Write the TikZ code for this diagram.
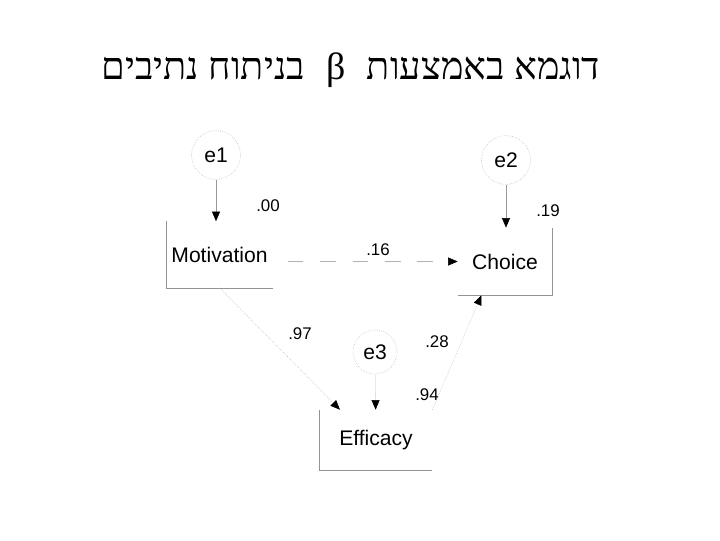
\documentclass[tikz,border=0pt]{standalone}
\usepackage{fontspec}
\setmainfont{Liberation Sans}
\newfontfamily\hebfont[Script=Hebrew]{Liberation Serif}
\TeXXeTstate=1
\usetikzlibrary{arrows.meta, positioning, calc}

\begin{document}
\begin{tikzpicture}[x=0.025cm, y=-0.025cm,
  obs/.style={minimum width=2.65cm, minimum height=1.65cm, inner sep=0pt,
              font=\fontsize{15}{18}\selectfont},
  err/.style={circle, draw=gray!60, densely dotted, minimum size=1.22cm,
              inner sep=0pt, font=\fontsize{15}{18}\selectfont},
  boxline/.style={draw=gray!85, thin},
  errarrow/.style={-{Triangle[length=2.4mm, width=2mm, color=black]}, gray!80, thin},
  regarrow/.style={-{Triangle[length=2.4mm, width=2mm, color=black]}, gray!60, thin},
  coef/.style={font=\fontsize{12}{14}\selectfont, inner sep=0pt}]
  \useasboundingbox (0,0) rectangle (720,540);
  \node[font=\hebfont\fontsize{27}{32}\selectfont] (title) at (351,70)
       {\beginR דוגמא באמצעות\hspace{0.3cm} β \hspace{0.3cm}בניתוח נתיבים\endR};
  % variables
  \node[obs] (mot) at (219.5,254.5) {Motivation};
  \node[obs, minimum width=2.35cm, minimum height=1.68cm] (cho) at (505,261.5) {Choice};
  \node[obs, minimum width=2.8cm, minimum height=1.5cm] (eff) at (376,440) {Efficacy};
  \draw[boxline] (mot.north west) |- (mot.south east);
  \draw[boxline] (cho.south west) -| (cho.north east);
  \draw[boxline] (eff.north west) |- (eff.south east);
  % errors
  \node[err] (e1) at (216,155) {e1};
  \node[err] (e2) at (506,160) {e2};
  \node[err, minimum size=1.1cm] (e3) at (375,352) {e3};
  \draw[errarrow] (e1) -- (e1 |- mot.north);
  \draw[errarrow] (e2) -- (e2 |- cho.north);
  \draw[errarrow, gray!25] (e3) -- (eff);
  % paths
  \draw[regarrow, dash pattern=on 11pt off 12pt, shorten <=0.38cm]
       (mot.east |- cho.west) -- (cho.west);
  \draw[regarrow, densely dotted] (mot.south)
       -- ($(eff.north west)!0.18!(eff.north east)$);
  \draw[regarrow, densely dotted] (eff.north east)
       -- ($(cho.south west)!0.25!(cho.south east)$);
  % coefficients
  \node[coef] (c00) at (268,206) {.00};
  \node[coef] (c16) at (378,250) {.16};
  \node[coef] (c19) at (548,211) {.19};
  \node[coef] (c97) at (300,334) {.97};
  \node[coef] (c28) at (437,342) {.28};
  \node[coef] (c94) at (427,395) {.94};
\end{tikzpicture}
\end{document}
